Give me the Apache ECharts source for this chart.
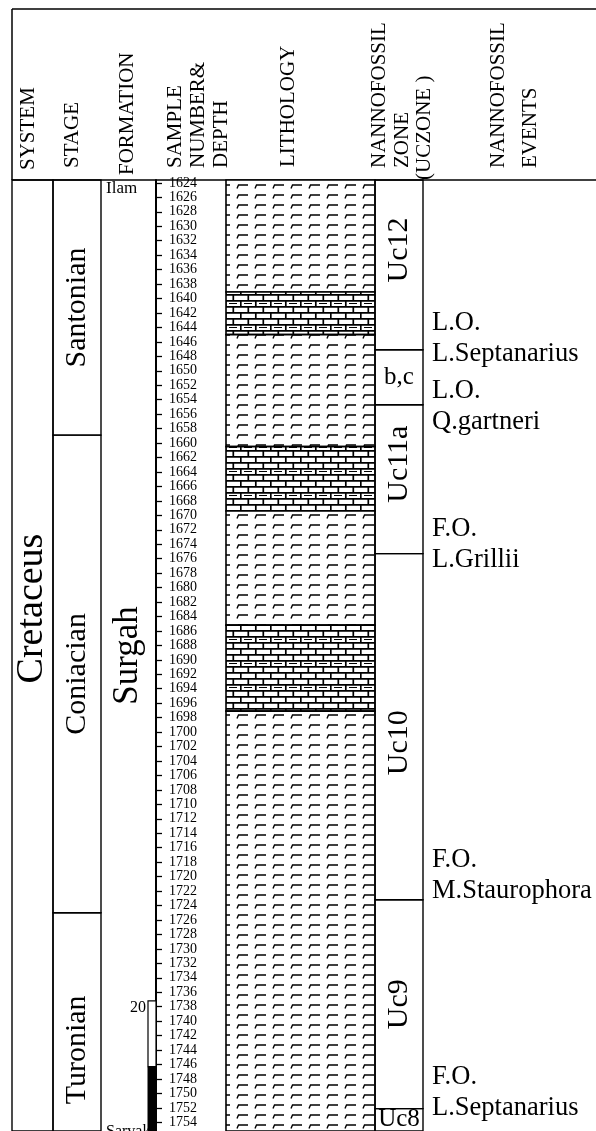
<!DOCTYPE html>
<html>
<head>
<meta charset="utf-8">
<script src="https://cdn.jsdelivr.net/npm/echarts@6/dist/echarts.min.js"></script>
<style>
  html, body { margin: 0; padding: 0; background: #fff; }
  #chart { width: 596px; height: 1131px; }
</style>
</head>
<body>
<div id="chart"></div>
<script>
// sample depths (m) shown on the depth column
const depthTicks = [1624, 1626, 1628, 1630, 1632, 1634, 1636, 1638, 1640, 1642, 1644, 1646,
  1648, 1650, 1652, 1654, 1656, 1658, 1660, 1662, 1664, 1666, 1668, 1670, 1672, 1674, 1676,
  1678, 1680, 1682, 1684, 1686, 1688, 1690, 1692, 1694, 1696, 1698, 1700, 1702, 1704, 1706,
  1708, 1710, 1712, 1714, 1716, 1718, 1720, 1722, 1724, 1726, 1728, 1730, 1732, 1734, 1736,
  1738, 1740, 1742, 1744, 1746, 1748, 1750, 1752, 1754];
const depthMin = 1623.6;
const depthMax = 1755.2;

// [name, top depth, bottom depth]
const systems = [['Cretaceus', 1623.6, 1755.2]];
const stages = [['Santonian', 1623.6, 1658.9], ['Coniacian', 1658.9, 1725.0], ['Turonian', 1725.0, 1755.2]];
const formations = [['Ilam', 1623.6, 1624.6], ['Surgah', 1624.6, 1754.2], ['Sarvak', 1754.2, 1755.2]];
const lithology = [['marl', 1623.6, 1639.1], ['limestone', 1639.1, 1645.0], ['marl', 1645.0, 1660.5],
  ['limestone', 1660.5, 1669.4], ['marl', 1669.4, 1685.2], ['limestone', 1685.2, 1697.1],
  ['marl', 1697.1, 1755.2]];
const zones = [['Uc12', 1623.6, 1647.1], ['b,c', 1647.1, 1654.7], ['Uc11a', 1654.7, 1675.3],
  ['Uc10', 1675.3, 1723.2], ['Uc9', 1723.2, 1752.1], ['Uc8', 1752.1, 1755.2]];
// [line 1, line 2, depth]
const events = [['L.O.', 'L.Septanarius', 1645.5], ['L.O.', 'Q.gartneri', 1655.0],
  ['F.O.', 'L.Grillii', 1674.0], ['F.O.', 'M.Staurophora', 1719.8], ['F.O.', 'L.Septanarius', 1749.9]];
// scale bar: [label, top depth, depth where black part starts]
const scaleBar = ['20', 1737.2, 1746.3];

// layout
const TOP = 180;
const cols = {
  system: [12, 53], stage: [53, 101], formation: [101, 156], depth: [156, 226],
  litho: [226, 375], zone: [375, 423], events: [423, 596]
};
const serif = '"Liberation Serif", "Times New Roman", serif';
const labelShift = { Cretaceus: -47, Turonian: 28, Uc12: -15, Uc11a: -15, Uc10: 16 };
const flatLabels = ['b,c', 'Uc8', 'Ilam', 'Sarvak'];

function makeMarl() {
  const c = document.createElement('canvas');
  c.width = 18; c.height = 10;
  const g = c.getContext('2d');
  g.fillStyle = '#fff'; g.fillRect(0, 0, 18, 10);
  g.strokeStyle = '#000'; g.lineWidth = 1.4;
  g.beginPath();
  g.moveTo(3, 8.5); g.lineTo(4.5, 5); g.lineTo(14, 5);
  g.stroke();
  return c;
}
function makeLime() {
  const c = document.createElement('canvas');
  c.width = 30; c.height = 24;
  const g = c.getContext('2d');
  g.fillStyle = '#fff'; g.fillRect(0, 0, 30, 24);
  g.strokeStyle = '#000'; g.lineWidth = 1.7;
  g.beginPath();
  for (let r = 0; r < 4; r++) {
    const y = r * 6;
    g.moveTo(0, y + 0.8); g.lineTo(30, y + 0.8);
    const off = r % 2 ? 7.5 : 0;
    for (let x = off; x < 30; x += 15) { g.moveTo(x + 0.8, y); g.lineTo(x + 0.8, y + 6); }
  }
  g.stroke();
  g.lineWidth = 1.2;
  g.beginPath();
  for (let x = 0; x < 30; x += 15) { g.moveTo(x + 4, 15.5); g.lineTo(x + 12, 15.5); }
  g.stroke();
  return c;
}
const fills = {
  marl: { image: makeMarl(), repeat: 'repeat' },
  limestone: { image: makeLime(), repeat: 'repeat' }
};

function yOf(api, d) { return api.coord([0, d])[1]; }

// boxes with a centred label, one series per column
function boxSeries(rows, col, size, framed) {
  return {
    type: 'custom', xAxisIndex: 0, yAxisIndex: 0, silent: true,
    data: rows.map(r => [r[1], r[2]]),
    renderItem(params, api) {
      const r = rows[params.dataIndex];
      const y0 = yOf(api, api.value(0)), y1 = yOf(api, api.value(1));
      const x0 = col[0], x1 = col[1];
      const kids = [];
      if (framed) {
        kids.push({ type: 'rect', shape: { x: x0, y: y0, width: x1 - x0, height: y1 - y0 },
          style: { fill: 'none', stroke: '#000', lineWidth: 1.4 } });
      }
      const flat = flatLabels.indexOf(r[0]) >= 0;
      const fs = typeof size === 'function' ? size(r[0]) : size;
      kids.push({
        type: 'text', x: (x0 + x1) / 2, y: (y0 + y1) / 2 + (labelShift[r[0]] || 0),
        rotation: flat ? 0 : Math.PI / 2,
        style: { text: r[0], fill: '#000', fontFamily: serif, fontSize: fs,
          align: 'center', verticalAlign: 'middle' }
      });
      return { type: 'group', children: kids };
    }
  };
}

const series = [
  boxSeries(systems, cols.system, 38, true),
  boxSeries(stages, cols.stage, 30, true),
  {
    type: 'custom', xAxisIndex: 0, yAxisIndex: 0, silent: true,
    data: formations.map(r => [r[1], r[2]]),
    renderItem(params, api) {
      const r = formations[params.dataIndex];
      const y0 = yOf(api, api.value(0)), y1 = yOf(api, api.value(1));
      const c = cols.formation;
      if (r[0] === 'Surgah') {
        return { type: 'text', x: (c[0] + c[1]) / 2 - 1, y: (y0 + y1) / 2,
          rotation: Math.PI / 2,
          style: { text: r[0], fill: '#000', fontFamily: serif, fontSize: 35, align: 'center', verticalAlign: 'middle' } };
      }
      return { type: 'text', x: c[0] + 5, y: y0,
        style: { text: r[0], fill: '#000', fontFamily: serif, fontSize: r[0] === 'Ilam' ? 17 : 16,
          align: 'left', verticalAlign: 'top' } };
    }
  },
  {
    type: 'custom', xAxisIndex: 0, yAxisIndex: 0, silent: true,
    data: [[scaleBar[1], scaleBar[2]]],
    renderItem(params, api) {
      const y0 = yOf(api, api.value(0)), y1 = yOf(api, api.value(1)), y2 = yOf(api, depthMax);
      const x0 = 148, w = 8;
      return { type: 'group', children: [
        { type: 'rect', shape: { x: x0, y: y0, width: w, height: y1 - y0 }, style: { fill: '#fff', stroke: '#000', lineWidth: 1.2 } },
        { type: 'rect', shape: { x: x0, y: y1, width: w, height: y2 - y1 }, style: { fill: '#000', stroke: '#000', lineWidth: 1 } },
        { type: 'text', x: x0 - 2, y: y0 - 1, style: { text: scaleBar[0], fill: '#000', fontFamily: serif, fontSize: 16, align: 'right', verticalAlign: 'top' } }
      ] };
    }
  },
  {
    type: 'custom', xAxisIndex: 0, yAxisIndex: 0, silent: true,
    data: lithology.map(r => [r[1], r[2]]),
    renderItem(params, api) {
      const r = lithology[params.dataIndex];
      const y0 = yOf(api, api.value(0)), y1 = yOf(api, api.value(1));
      const c = cols.litho;
      return { type: 'rect', shape: { x: c[0], y: y0, width: c[1] - c[0], height: y1 - y0 },
        style: { fill: fills[r[0]], stroke: '#000', lineWidth: 1.6 } };
    }
  },
  boxSeries(zones, cols.zone, name => (flatLabels.indexOf(name) >= 0 ? 25 : 30), true),
  {
    type: 'custom', xAxisIndex: 0, yAxisIndex: 0, silent: true,
    data: events.map(e => [e[2], e[2]]),
    renderItem(params, api) {
      const e = events[params.dataIndex];
      return { type: 'text', x: cols.events[0] + 9, y: yOf(api, api.value(0)),
        style: { text: e[0] + '\n' + e[1], fill: '#000', fontFamily: serif, fontSize: 26.5,
          lineHeight: 31, align: 'left', verticalAlign: 'middle' } };
    }
  }
];

// header texts (rotated, reading upwards) and frame lines
function headText(text, x, y, lh) {
  return { type: 'text', x: x, y: y, rotation: Math.PI / 2, silent: true,
    style: { text: text, fill: '#000', fontFamily: serif, fontSize: 21, lineHeight: lh || 23,
      align: 'left', verticalAlign: 'middle' } };
}
function line(x1, y1, x2, y2, w) {
  return { type: 'line', silent: true, shape: { x1, y1, x2, y2 }, style: { stroke: '#000', lineWidth: w || 1.5 } };
}

const option = {
  animation: false,
  backgroundColor: '#fff',
  grid: [
    { left: 0, top: TOP, width: 596, bottom: 0 },
    { left: cols.depth[0], top: TOP, width: cols.depth[1] - cols.depth[0], bottom: 0 }
  ],
  xAxis: [
    { gridIndex: 0, type: 'value', min: 0, max: 596, show: false },
    { gridIndex: 1, type: 'value', min: 0, max: 1, show: false }
  ],
  yAxis: [
    { gridIndex: 0, type: 'value', inverse: true, min: depthMin, max: depthMax, show: false },
    {
      gridIndex: 1, type: 'value', inverse: true, min: depthMin, max: depthMax, position: 'left',
      axisLine: { show: true, onZero: false, lineStyle: { color: '#000', width: 2 } },
      axisTick: { show: true, inside: true, length: 6, customValues: depthTicks, lineStyle: { color: '#000', width: 1.3 } },
      axisLabel: { show: true, inside: true, margin: 13, customValues: depthTicks, color: '#000',
        fontFamily: serif, fontSize: 14, formatter: v => String(v) },
      splitLine: { show: false }
    }
  ],
  series: series,
  graphic: { elements: [
    line(12, 9, 596, 9),
    line(12, 9, 12, TOP),
    line(12, TOP, 596, TOP),
    headText('SYSTEM', 28, 170),
    headText('STAGE', 72, 168),
    headText('FORMATION', 127, 175),
    headText('SAMPLE\nNUMBER&\nDEPTH', 198, 168),
    headText('LITHOLOGY', 288, 167),
    headText('NANNOFOSSIL', 379, 168),
    headText('ZONE', 402, 168),
    headText('(UCZONE )', 424, 180),
    headText('NANNOFOSSIL', 498, 168),
    headText('EVENTS', 530, 168)
  ] }
};

const chart = echarts.init(document.getElementById('chart'));
chart.setOption(option);
</script>
</body>
</html>
